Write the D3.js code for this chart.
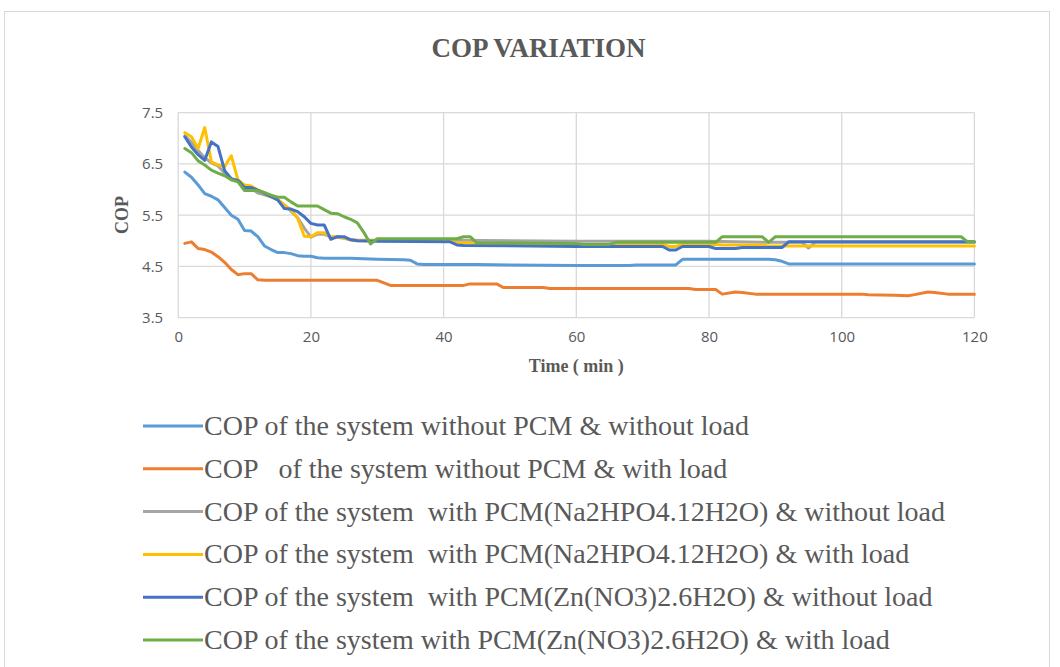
<!DOCTYPE html>
<html>
<head>
<meta charset="utf-8">
<script src="https://cdn.jsdelivr.net/npm/d3@7/dist/d3.min.js"></script>
<style>
  html, body { margin: 0; padding: 0; background: #ffffff; }
  svg { display: block; }
</style>
</head>
<body>
<svg id="chart" width="1060" height="667"></svg>
<script>
// COP readings, [time (min), COP] at each change of the logged value
const copNoPcmNoLoad = [[1,6.34],[2,6.24],[3,6.09],[4,5.92],[5,5.87],[6,5.80],[7,5.65],[8,5.50],[9,5.42],[10,5.20],[11,5.19],[12,5.08],[13,4.90],[14,4.83],[15,4.77],[16,4.77],[17,4.75],[18,4.71],[19,4.70],[20,4.70],[21,4.67],[22,4.66],[26,4.66],[28,4.65],[30,4.64],[34,4.63],[35,4.62],[36,4.55],[37,4.54],[45,4.54],[50,4.53],[60,4.52],[68,4.52],[69,4.53],[75,4.53],[76,4.64],[89,4.64],[90,4.63],[91,4.60],[92,4.55],[120,4.55]];
const copNoPcmLoad = [[1,4.95],[2,4.98],[3,4.85],[4,4.83],[5,4.78],[6,4.69],[7,4.58],[8,4.44],[9,4.34],[10,4.36],[11,4.36],[12,4.24],[13,4.23],[30,4.23],[32,4.13],[43,4.13],[44,4.16],[48,4.16],[49,4.09],[55,4.09],[56,4.07],[77,4.07],[78,4.05],[81,4.05],[82,3.96],[84,4.00],[85,3.99],[87,3.96],[103,3.96],[104,3.95],[108,3.94],[110,3.93],[111,3.95],[113,4.00],[114,3.99],[116,3.96],[120,3.96]];
const copNaNoLoad = [[1,7.05],[2,6.92],[3,6.76],[4,6.62],[5,6.52],[6,6.46],[7,6.32],[8,6.19],[9,6.16],[10,6.06],[11,6.03],[12,5.93],[13,5.90],[14,5.86],[15,5.80],[16,5.70],[17,5.58],[18,5.45],[19,5.25],[20,5.07],[21,5.13],[22,5.13],[23,5.07],[24,5.07],[25,5.05],[26,5.02],[27,5.01],[42,5.01],[60,4.99],[80,4.99],[88,4.97],[94,4.97],[95,4.86],[96,4.97],[120,4.97]];
const copNaLoad = [[1,7.11],[2,7.03],[3,6.80],[4,7.21],[5,6.54],[6,6.48],[7,6.45],[8,6.66],[9,6.19],[10,6.09],[11,6.07],[12,5.99],[13,5.94],[14,5.87],[15,5.81],[16,5.70],[17,5.60],[18,5.44],[19,5.09],[20,5.08],[21,5.16],[22,5.16],[23,5.08],[24,5.08],[25,5.06],[26,5.02],[27,5.00],[41,5.00],[42,4.96],[44,4.96],[45,4.93],[73,4.93],[74,4.89],[75,4.89],[76,4.93],[81,4.93],[82,4.92],[88,4.92],[89,4.90],[120,4.90]];
const copZnNoLoad = [[1,7.03],[2,6.83],[3,6.68],[4,6.57],[5,6.93],[6,6.84],[7,6.37],[8,6.21],[9,6.18],[10,6.04],[11,6.04],[12,5.99],[13,5.93],[14,5.86],[15,5.80],[16,5.63],[17,5.62],[18,5.57],[19,5.47],[20,5.34],[21,5.31],[22,5.31],[23,5.03],[24,5.08],[25,5.08],[26,5.02],[27,5.00],[30,4.99],[41,4.98],[42,4.92],[43,4.91],[60,4.89],[73,4.89],[74,4.82],[75,4.82],[76,4.89],[80,4.89],[81,4.85],[84,4.85],[85,4.87],[91,4.87],[92,4.98],[120,4.98]];
const copZnLoad = [[1,6.80],[2,6.72],[3,6.56],[4,6.48],[5,6.38],[6,6.32],[7,6.27],[8,6.19],[9,6.15],[10,5.98],[11,5.98],[12,5.98],[13,5.94],[14,5.89],[15,5.85],[16,5.85],[17,5.76],[18,5.68],[19,5.68],[20,5.68],[21,5.68],[22,5.61],[23,5.54],[24,5.53],[25,5.47],[26,5.42],[27,5.35],[28,5.16],[29,4.94],[30,5.04],[42,5.04],[43,5.08],[44,5.08],[45,4.96],[60,4.95],[61,4.93],[65,4.93],[66,4.97],[81,4.97],[82,5.08],[88,5.08],[89,4.97],[90,5.08],[118,5.08],[119,4.98],[120,4.98]];

const seriesNames = [
  "COP of the system without PCM & without load",
  "COP   of the system without PCM & with load",
  "COP of the system  with PCM(Na2HPO4.12H2O) & without load",
  "COP of the system  with PCM(Na2HPO4.12H2O) & with load",
  "COP of the system  with PCM(Zn(NO3)2.6H2O) & without load",
  "COP of the system with PCM(Zn(NO3)2.6H2O) & with load"
];
const seriesColors = ["#5B9BD5", "#ED7D31", "#A5A5A5", "#FFC000", "#4472C4", "#70AD47"];
const seriesData = [copNoPcmNoLoad, copNoPcmLoad, copNaNoLoad, copNaLoad, copZnNoLoad, copZnLoad];

const xTicks = [0, 20, 40, 60, 80, 100, 120];
const yTicks = [3.5, 4.5, 5.5, 6.5, 7.5];

const chartTitle = "COP VARIATION";
const xTitle = "Time ( min )";
const yTitle = "COP";

const svg = d3.select("#chart");
const serif = "'Liberation Serif', 'Times New Roman', serif";
const sans = "'Open Sans', 'Liberation Sans', sans-serif";
const textGray = "#595959";
const gridGray = "#D9D9D9";

// chart frame
svg.append("rect")
  .attr("x", 4.5).attr("y", 11.5)
  .attr("width", 1045).attr("height", 700)
  .attr("fill", "#ffffff")
  .attr("stroke", gridGray).attr("stroke-width", 1);

const plot = { left: 178.2, right: 974.4, top: 112.7, bottom: 317.7 };

const x = d3.scaleLinear().domain([0, 120]).range([plot.left, plot.right]);
const y = d3.scaleLinear().domain([3.5, 7.5]).range([plot.bottom, plot.top]);

// gridlines
const grid = svg.append("g");
grid.selectAll("line.h").data(yTicks).join("line")
  .attr("x1", plot.left).attr("x2", plot.right)
  .attr("y1", d => y(d)).attr("y2", d => y(d))
  .attr("stroke", gridGray).attr("stroke-width", 1.3);
grid.selectAll("line.v").data(xTicks).join("line")
  .attr("x1", d => x(d)).attr("x2", d => x(d))
  .attr("y1", plot.top).attr("y2", plot.bottom)
  .attr("stroke", gridGray).attr("stroke-width", 1.3);

// axes (labels only; lines come from the grid)
const xAxis = svg.append("g")
  .attr("transform", `translate(0,${plot.bottom})`)
  .call(d3.axisBottom(x).tickValues(xTicks).tickSize(0).tickPadding(14).tickFormat(d3.format("d")));
const yAxis = svg.append("g")
  .attr("transform", `translate(${plot.left},0)`)
  .call(d3.axisLeft(y).tickValues(yTicks).tickSize(0).tickPadding(15).tickFormat(d3.format(".1f")));
[xAxis, yAxis].forEach(a => {
  a.select(".domain").remove();
  a.selectAll("text")
    .attr("fill", textGray)
    .style("font-family", sans)
    .style("font-size", "15px");
});

// series lines
const line = d3.line().x(d => x(d[0])).y(d => y(d[1]));
svg.append("g").selectAll("path").data(seriesData).join("path")
  .attr("d", d => line(d))
  .attr("fill", "none")
  .attr("stroke", (d, i) => seriesColors[i])
  .attr("stroke-width", 3)
  .attr("stroke-linejoin", "round")
  .attr("stroke-linecap", "round");

// titles
svg.append("text")
  .attr("x", 538.5).attr("y", 57)
  .attr("text-anchor", "middle")
  .attr("fill", textGray)
  .style("font-family", serif).style("font-weight", "bold").style("font-size", "27px")
  .text(chartTitle);

svg.append("text")
  .attr("x", 576.3).attr("y", 372)
  .attr("text-anchor", "middle")
  .attr("fill", textGray)
  .style("font-family", serif).style("font-weight", "bold").style("font-size", "18px")
  .text(xTitle);

svg.append("text")
  .attr("transform", "translate(128,215) rotate(-90)")
  .attr("text-anchor", "middle")
  .attr("fill", textGray)
  .style("font-family", serif).style("font-weight", "bold").style("font-size", "18px")
  .text(yTitle);

// legend
const legend = svg.append("g");
const rows = legend.selectAll("g").data(seriesNames).join("g")
  .attr("transform", (d, i) => `translate(143,${426 + i * 42.8})`);
rows.append("line")
  .attr("x1", 0).attr("x2", 60).attr("y1", 0).attr("y2", 0)
  .attr("stroke", (d, i) => seriesColors[i])
  .attr("stroke-width", 3);
rows.append("text")
  .attr("x", 61).attr("y", 9)
  .attr("fill", textGray)
  .attr("xml:space", "preserve")
  .style("white-space", "pre")
  .style("font-family", serif).style("font-size", "28px")
  .text(d => d);
</script>
</body>
</html>
